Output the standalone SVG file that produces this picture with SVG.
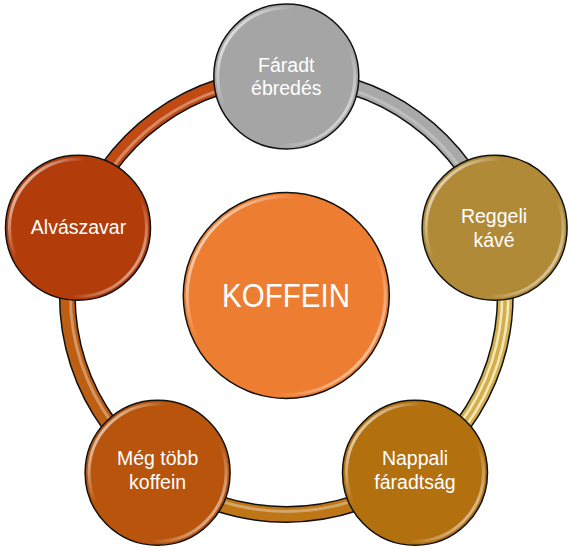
<svg xmlns="http://www.w3.org/2000/svg" xmlns:xlink="http://www.w3.org/1999/xlink" width="571" height="550" viewBox="0 0 571 550">
<style>
.edge{fill:none;stroke:#111;stroke-width:17}
.band{fill:none;stroke-width:14}
.hl{fill:none;stroke:#fff;stroke-width:3;stroke-opacity:0.35}
.node{stroke:#111;stroke-width:1.5}
.gloss{fill:none;stroke:url(#gl);stroke-width:3}
.lbl{font-family:"Liberation Sans",Arial,sans-serif;font-size:19.5px;fill:#fff;text-anchor:middle}
</style>
<defs>
<linearGradient id="gl" x1="0" y1="0.15" x2="1" y2="0.85">
<stop offset="0" stop-color="#fff" stop-opacity="0.85"/>
<stop offset="0.3" stop-color="#fff" stop-opacity="0"/>
<stop offset="0.7" stop-color="#fff" stop-opacity="0"/>
<stop offset="1" stop-color="#fff" stop-opacity="0.7"/>
</linearGradient>
<path id="s1" d="M0,-219 A219,219 0 0 1 208.28,-67.68"/>
<path id="s2" d="M208.28,-67.68 A219,219 0 0 1 128.73,177.17"/>
<path id="s3" d="M128.73,177.17 A219,219 0 0 1 -128.73,177.17"/>
<path id="s4" d="M-128.73,177.17 A219,219 0 0 1 -208.28,-67.68"/>
<path id="s5" d="M-208.28,-67.68 A219,219 0 0 1 0,-219"/>
</defs>
<rect width="571" height="550" fill="#fff"/>
<g id="connectors" transform="translate(286.3,295.5)">
<use href="#s1" class="edge"/>
<use href="#s1" class="band" stroke="#A9A9A9"/>
<use href="#s1" class="hl" transform="scale(0.986)" style="stroke-opacity:0.25"/>
<use href="#s2" class="edge"/>
<use href="#s2" class="band" stroke="#D2AE4E"/>
<use href="#s2" class="hl" transform="scale(0.986)" style="stroke:#F6E7B6;stroke-opacity:1;stroke-width:2.5"/>
<use href="#s2" class="hl" transform="scale(1.014)" style="stroke:#F6E7B6;stroke-opacity:1;stroke-width:2.5"/>
<use href="#s3" class="edge"/>
<use href="#s3" class="band" stroke="#BE7616"/>
<use href="#s3" class="hl" transform="scale(0.986)"/>
<use href="#s4" class="edge"/>
<use href="#s4" class="band" stroke="#BD5E12"/>
<use href="#s4" class="hl" transform="scale(0.986)"/>
<use href="#s5" class="edge"/>
<use href="#s5" class="band" stroke="#C04A12"/>
<use href="#s5" class="hl" transform="scale(0.986)"/>
</g>
<g id="center">
<circle class="node" cx="286.3" cy="295.5" r="103" fill="#ED7D31"/>
<circle class="gloss" cx="286.3" cy="295.5" r="99"/>
<text x="286" y="307" style="font-family:'Liberation Sans',Arial,sans-serif;font-size:34px;fill:#fff;text-anchor:middle" textLength="128" lengthAdjust="spacingAndGlyphs">KOFFEIN</text>
</g>
<g id="n-top">
<circle class="node" cx="286.3" cy="76.5" r="72.5" fill="#A5A5A5"/>
<circle class="gloss" cx="286.3" cy="76.5" r="68.5"/>
<text class="lbl" x="286.3" y="72">Fáradt</text>
<text class="lbl" x="286.3" y="95">ébredés</text>
</g>
<g id="n-right">
<circle class="node" cx="494.6" cy="227.8" r="72.5" fill="#B08A36"/>
<circle class="gloss" cx="494.6" cy="227.8" r="68.5"/>
<text class="lbl" x="494" y="222.5">Reggeli</text>
<text class="lbl" x="494" y="246.5">kávé</text>
</g>
<g id="n-bottomright">
<circle class="node" cx="415" cy="472.7" r="72.5" fill="#B3700F"/>
<circle class="gloss" cx="415" cy="472.7" r="68.5"/>
<text class="lbl" x="415" y="465">Nappali</text>
<text class="lbl" x="415" y="489">fáradtság</text>
</g>
<g id="n-bottomleft">
<circle class="node" cx="157.6" cy="472.7" r="72.5" fill="#B8540B"/>
<circle class="gloss" cx="157.6" cy="472.7" r="68.5"/>
<text class="lbl" x="157.6" y="465">Még több</text>
<text class="lbl" x="157.6" y="489">koffein</text>
</g>
<g id="n-left">
<circle class="node" cx="78" cy="227.8" r="72.5" fill="#B33C0B"/>
<circle class="gloss" cx="78" cy="227.8" r="68.5"/>
<text class="lbl" x="78.5" y="234">Alvászavar</text>
</g>
</svg>
